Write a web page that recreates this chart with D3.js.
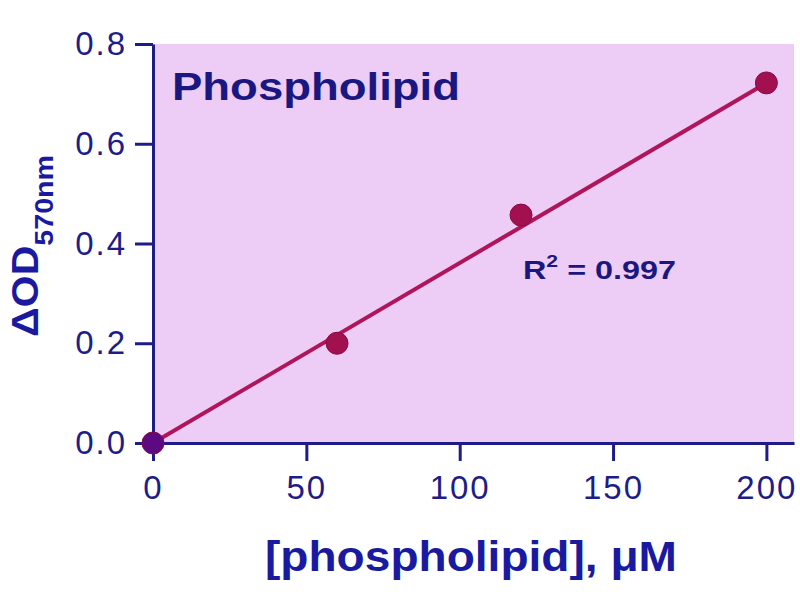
<!DOCTYPE html>
<html>
<head>
<meta charset="utf-8">
<script src="https://cdn.jsdelivr.net/npm/d3@7"></script>
<style>
  body { margin: 0; background: #fff; }
  text { font-family: "Liberation Sans", Arial, sans-serif; }
</style>
</head>
<body>
<div class="chart"></div>
<script>
// standard curve values
const conc = [0, 60, 120, 200];
const od = [0, 0.2, 0.457, 0.722];
const fitX = [0, 200];
const fitY = [0, 0.722];
const xTicks = [0, 50, 100, 150, 200];
const yTicks = [0, 0.2, 0.4, 0.6, 0.8];

const width = 800;
const height = 600;
const navy = "#1e1c88";

const svg = d3
  .select(".chart")
  .append("svg")
  .attr("width", width)
  .attr("height", height);

const x = d3.scaleLinear().domain([0, 209]).range([153, 794]);
const y = d3.scaleLinear().domain([0, 0.8]).range([443, 44]);

// pink plot background
svg
  .append("rect")
  .attr("x", x(0))
  .attr("y", y(0.8))
  .attr("width", x(209) - x(0))
  .attr("height", y(0) - y(0.8))
  .attr("fill", "#edcdf5");

// fit line
const fit = fitX.map((d, i) => [d, fitY[i]]);
svg
  .append("path")
  .datum(fit)
  .attr("fill", "none")
  .attr("stroke", "#b0145a")
  .attr("stroke-width", 4)
  .attr("d", d3.line().x((d) => x(d[0])).y((d) => y(d[1])));

// axes
const yAxis = svg
  .append("g")
  .attr("transform", "translate(" + x(0) + ",0)")
  .call(
    d3.axisLeft(y)
      .tickValues(yTicks)
      .tickFormat(d3.format(".1f"))
      .tickSize(18)
      .tickSizeOuter(0)
      .tickPadding(8)
  );

const xAxis = svg
  .append("g")
  .attr("transform", "translate(0," + y(0) + ")")
  .call(
    d3.axisBottom(x)
      .tickValues(xTicks)
      .tickFormat(d3.format("d"))
      .tickSize(18)
      .tickSizeOuter(0)
      .tickPadding(15)
  );

[xAxis, yAxis].forEach((g) => {
  g.selectAll("path, line").attr("stroke", navy).attr("stroke-width", 3);
  g.selectAll("text")
    .attr("fill", navy)
    .attr("font-size", "33px")
    .attr("letter-spacing", "2px");
});

// data points
const pts = conc.map((d, i) => ({ c: d, v: od[i] }));
svg
  .selectAll("circle")
  .data(pts)
  .enter()
  .append("circle")
  .attr("cx", (d) => x(d.c))
  .attr("cy", (d) => y(d.v))
  .attr("r", 11)
  .attr("fill", (d) => (d.c === 0 ? "#5c0a82" : "#a3104f"))
  .attr("stroke", "#8a0a44")
  .attr("stroke-width", 1);

// title inside plot
svg
  .append("text")
  .attr("x", 172)
  .attr("y", 100)
  .attr("font-size", "38px")
  .attr("font-weight", "bold")
  .attr("fill", "#1a1880")
  .attr("textLength", 288)
  .attr("lengthAdjust", "spacingAndGlyphs")
  .text("Phospholipid");

// R squared
const r2 = svg
  .append("text")
  .attr("x", 523)
  .attr("y", 279)
  .attr("font-size", "26px")
  .attr("font-weight", "bold")
  .attr("fill", "#1a1880")
  .attr("textLength", 153)
  .attr("lengthAdjust", "spacingAndGlyphs");
r2.append("tspan").text("R");
r2.append("tspan").attr("font-size", "17px").attr("dy", -12).text("2");
r2.append("tspan").attr("dy", 12).text(" = 0.997");

// x label
svg
  .append("text")
  .attr("x", 265)
  .attr("y", 571)
  .attr("font-size", "42px")
  .attr("font-weight", "bold")
  .attr("fill", "#1a1aa0")
  .attr("textLength", 412)
  .attr("lengthAdjust", "spacingAndGlyphs")
  .text("[phospholipid], \u03bcM");

// y label
const yl = svg
  .append("text")
  .attr("transform", "translate(38,337) rotate(-90)")
  .attr("font-size", "36px")
  .attr("font-weight", "bold")
  .attr("fill", "#1a1aa0")
  .attr("textLength", 182)
  .attr("lengthAdjust", "spacingAndGlyphs");
yl.append("tspan").text("\u0394OD");
yl.append("tspan").attr("font-size", "25px").attr("dy", 15).text("570nm");
</script>
</body>
</html>
